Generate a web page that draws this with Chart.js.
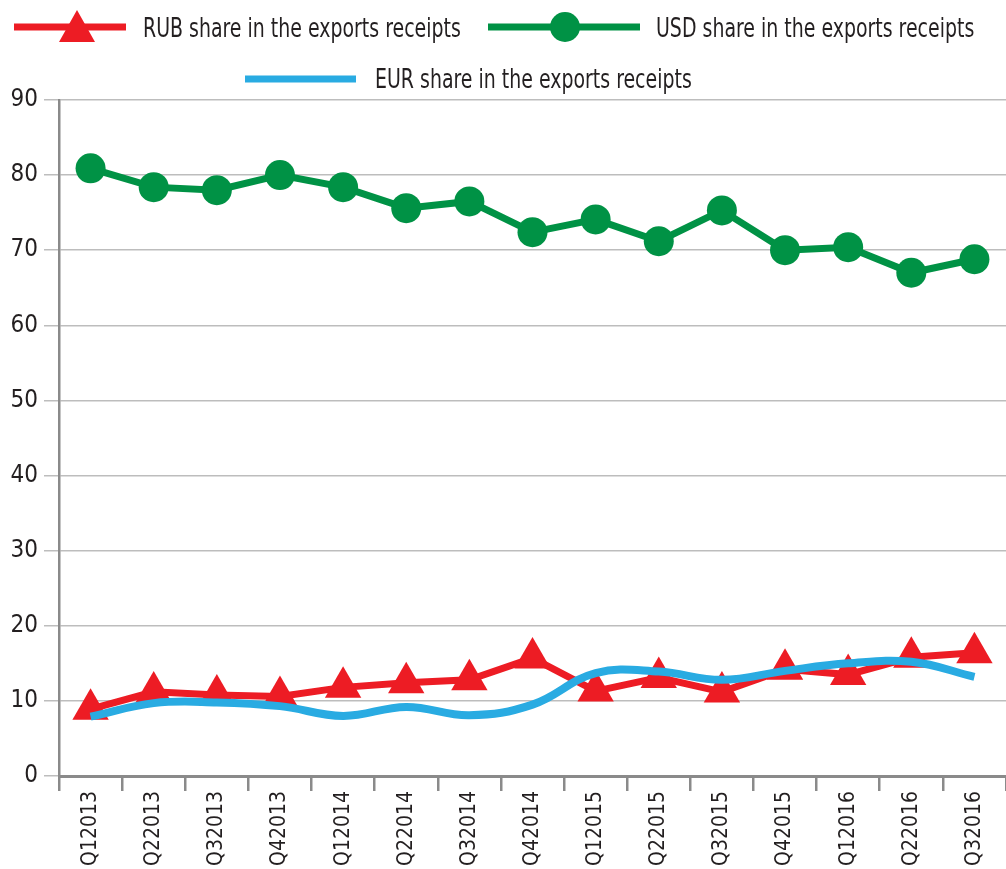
<!DOCTYPE html>
<html>
<head>
<meta charset="utf-8">
<title>Currency shares in export receipts</title>
<script src="https://cdn.jsdelivr.net/npm/chart.js@4"></script>
<style>
html, body { margin: 0; padding: 0; background: #fff; }
#wrap { position: relative; width: 1006px; height: 869px; overflow: hidden; }
#chart { position: absolute; left: 0; top: 0; }
.lg-mark { position: absolute; }
.lg-text {
    position: absolute;
    font-family: 'DejaVu Sans Condensed', sans-serif;
    font-size: 26px;
    line-height: 30px;
    color: #231f20;
    white-space: nowrap;
    transform: scaleX(0.81);
    transform-origin: left center;
}
</style>
</head>
<body>
<div id="wrap">
    <canvas id="chart" width="1027" height="869"></canvas>

    <svg class="lg-mark" style="left:14px; top:8px;" width="112" height="36">
        <line x1="0" y1="19" x2="112" y2="19" stroke="#ED1C24" stroke-width="7"/>
        <polygon points="63,2 81,34 45,34" fill="#ED1C24"/>
    </svg>
    <div class="lg-text" style="left:143px; top:13px;">RUB share in the exports receipts</div>

    <svg class="lg-mark" style="left:488px; top:8px;" width="152" height="36">
        <line x1="0" y1="19" x2="152" y2="19" stroke="#009245" stroke-width="7"/>
        <circle cx="77" cy="19" r="15" fill="#009245"/>
    </svg>
    <div class="lg-text" style="left:656px; top:13px;">USD share in the exports receipts</div>

    <svg class="lg-mark" style="left:245px; top:70px;" width="111" height="18">
        <line x1="0" y1="9" x2="111" y2="9" stroke="#29ABE2" stroke-width="7"/>
    </svg>
    <div class="lg-text" style="left:375px; top:64px;">EUR share in the exports receipts</div>
</div>

<script>
const categories = ['Q12013', 'Q22013', 'Q32013', 'Q42013', 'Q12014', 'Q22014', 'Q32014', 'Q42014',
    'Q12015', 'Q22015', 'Q32015', 'Q42015', 'Q12016', 'Q22016', 'Q32016'];

const rubShare = [8.9, 11.2, 10.8, 10.6, 11.8, 12.4, 12.8, 15.7, 11.3, 13.1, 11.2, 14.2, 13.5, 15.8, 16.4];
const usdShare = [80.9, 78.4, 78.0, 80.0, 78.4, 75.6, 76.5, 72.4, 74.1, 71.2, 75.3, 70.0, 70.4, 67.0, 68.8];
const eurShare = [7.9, 9.7, 9.8, 9.3, 8.0, 9.2, 8.1, 9.5, 13.7, 13.9, 12.8, 14.0, 15.0, 15.2, 13.2];

const yMin = 0;
const yMax = 90;
const yStep = 10;

const fontFamily = "'DejaVu Sans Condensed', sans-serif";
const textColor = '#231f20';
const axisColor = '#8a8a8a';
const gridColor = '#bdbdbd';

const ctx = document.getElementById('chart').getContext('2d');

new Chart(ctx, {
    type: 'line',
    data: {
        labels: categories,
        datasets: [
            {
                label: 'EUR share in the exports receipts',
                data: eurShare,
                borderColor: '#29ABE2',
                backgroundColor: '#29ABE2',
                borderWidth: 8,
                pointRadius: 0,
                tension: 0.4,
                order: 0,
            },
            {
                label: 'RUB share in the exports receipts',
                data: rubShare,
                borderColor: '#ED1C24',
                backgroundColor: '#ED1C24',
                borderWidth: 7,
                pointStyle: 'triangle',
                pointRadius: 21,
                pointBorderWidth: 0,
                pointBackgroundColor: '#ED1C24',
                tension: 0,
                order: 1,
            },
            {
                label: 'USD share in the exports receipts',
                data: usdShare,
                borderColor: '#009245',
                backgroundColor: '#009245',
                borderWidth: 7,
                pointStyle: 'circle',
                pointRadius: 15,
                pointBorderWidth: 0,
                pointBackgroundColor: '#009245',
                tension: 0,
                order: 2,
            }
        ]
    },
    options: {
        responsive: false,
        animation: false,
        devicePixelRatio: 1,
        layout: {
            padding: { top: 100, right: 0, left: 0, bottom: 0 }
        },
        plugins: {
            legend: { display: false },
            tooltip: { enabled: false },
        },
        scales: {
            x: {
                offset: true,
                grid: {
                    offset: true,
                    drawOnChartArea: false,
                    drawTicks: true,
                    tickLength: 15,
                    color: axisColor,
                    lineWidth: 2.5,
                },
                border: { color: axisColor, width: 3 },
                ticks: {
                    autoSkip: false,
                    minRotation: 90,
                    maxRotation: 90,
                    padding: 0,
                    color: textColor,
                    font: { family: fontFamily, size: 21 },
                },
                afterFit: (scale) => { scale.height = 93; },
            },
            y: {
                min: yMin,
                max: yMax,
                grid: {
                    color: gridColor,
                    lineWidth: 1.5,
                    drawTicks: true,
                    tickLength: 15,
                },
                border: { color: axisColor, width: 2.5 },
                ticks: {
                    stepSize: yStep,
                    padding: 6,
                    color: textColor,
                    font: { family: fontFamily, size: 24 },
                },
                afterFit: (scale) => { scale.width = 59; },
            }
        }
    }
});
</script>
</body>
</html>
